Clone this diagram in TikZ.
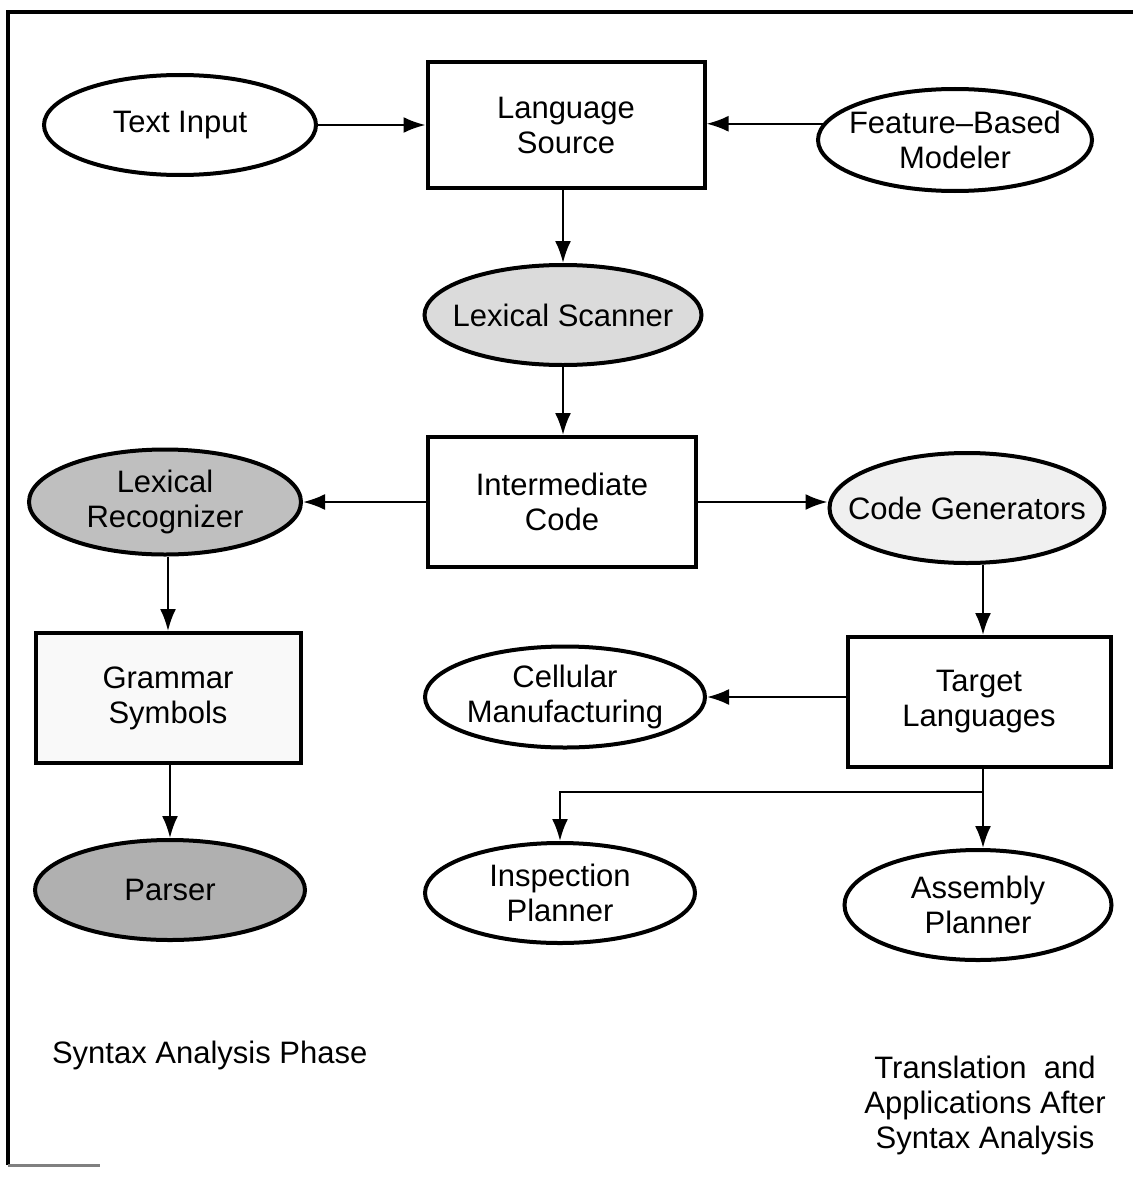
\documentclass[tikz,border=0pt]{standalone}
\usepackage{fontspec}
\setmainfont{Liberation Sans}
\usetikzlibrary{shapes.geometric,arrows.meta,calc}
\begin{document}
\begin{tikzpicture}[x=0.5pt,y=-0.5pt,
  every node/.style={font=\fontsize{15.5}{17.5}\selectfont, align=center},
  bx/.style={draw, line width=2pt, rectangle, inner sep=0pt},
  el/.style={draw, line width=2pt, ellipse, inner sep=0pt, label={center:#1}},
  arr/.style={line width=1.2pt, -{Latex[length=11pt,width=8pt]}},
  lbl/.style={font=\fontsize{15.5}{17.5}\selectfont}]
\useasboundingbox (0,0) rectangle (1133,1177);
% frame
\draw[line width=2pt] (8,1165) -- (8,12) -- (1133,12);
\draw[line width=1.5pt, gray] (8,1165) -- (100,1165);

\node[el={Text Input}, minimum width=136pt, minimum height=50pt] (tin) at (180,125) {};
\node[bx, minimum width=138.5pt, minimum height=62.5pt] (ls) at (566,125) {Language\\Source};
\node[el={Feature--Based\\Modeler}, minimum width=137pt, minimum height=51pt] (fbm) at (955,140) {};
\node[el={Lexical Scanner}, fill=gray!28, minimum width=138.5pt, minimum height=50pt] (lsc) at (563,315) {};
\node[bx, minimum width=134pt, minimum height=65pt] (ic) at (562,502) {Intermediate\\Code};
\node[el={Lexical\\Recognizer}, fill=gray!50, minimum width=136pt, minimum height=52.5pt] (lr) at (165,502) {};
\node[el={Code Generators}, fill=gray!12, minimum width=137.5pt, minimum height=55pt] (cg) at (967,508) {};
\node[bx, fill=gray!5, minimum width=132.5pt, minimum height=65pt] (gs) at (168,698) {Grammar\\Symbols};
\node[el={Parser}, fill=gray!62, minimum width=135pt, minimum height=50pt] (pa) at (170,890) {};
\node[bx, minimum width=131.5pt, minimum height=65pt] (tl) at (979,702) {Target\\Languages};
\node[el={Cellular\\Manufacturing}, minimum width=140pt, minimum height=50.5pt] (cm) at (565,697) {};
\node[el={Inspection\\Planner}, minimum width=135pt, minimum height=50pt] (ip) at (560,893) {};
\node[el={Assembly\\Planner}, minimum width=133.5pt, minimum height=55pt] (ap) at (978,905) {};

\node[lbl, anchor=west] (sap) at (45,1055) {Syntax Analysis Phase};
\node[lbl, align=center] (taa) at (985,1105) {Translation\ \ and\\Applications After\\Syntax Analysis};

% connectors
\draw[arr] (tin) -- (ls);
\draw[arr] (fbm.173) -- (fbm.173 -| ls.east);
\draw[arr] (ls.south -| lsc.north) -- (lsc.north);
\draw[arr] (lsc.south) -- (lsc.south |- ic.north);
\draw[arr] (ic) -- (lr);
\draw[arr] (ic) -- (ic -| cg.west);
\draw[arr] (cg.south -| 983,0) -- (tl.north -| 983,0);
\draw[arr] (lr.south -| gs.north) -- (gs.north);
\draw[arr] (gs.south -| pa.north) -- (pa.north);
\draw[arr] (tl.west |- cm.east) -- (cm.east);
\coordinate (br) at ($(tl.south)+(4,23)$);
\draw[line width=1.2pt] (tl.south -| br) -- (br);
\draw[arr] (br) -- (br |- ap.north);
\draw[arr] (br) -| (ip.north);
\end{tikzpicture}
\end{document}
